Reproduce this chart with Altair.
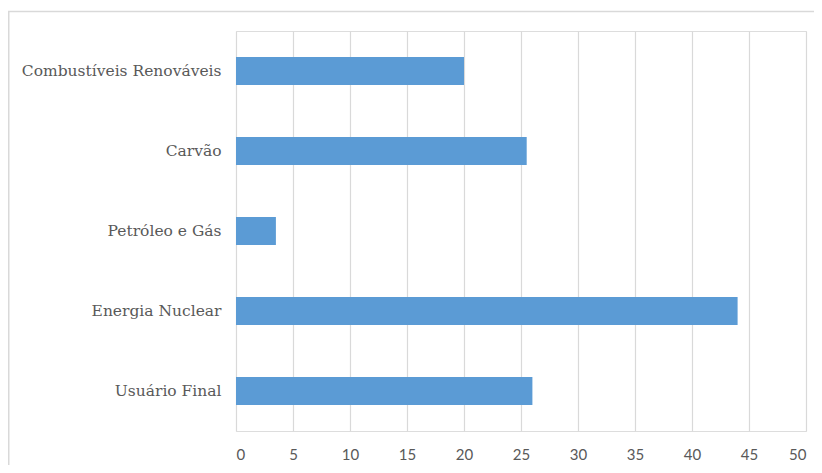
import altair as alt
import pandas as pd

categories = ["Combustíveis Renováveis", "Carvão", "Petróleo e Gás", "Energia Nuclear", "Usuário Final"]
values = [20, 25.5, 3.5, 44, 26]

df = pd.DataFrame({"categoria": categories, "valor": values})

PAD_L, PAD_T = 228, 23
W, H = 570, 400

frame = alt.Chart(pd.DataFrame({"a": [0]})).mark_rect(
    fill=None, stroke="#d9d9d9", strokeWidth=1.5
).encode(
    x=alt.value(-PAD_L + 0.75), x2=alt.value(W + 40),
    y=alt.value(-PAD_T + 3.5), y2=alt.value(H + 60),
)

bars = alt.Chart(df).mark_bar(color="#5B9BD5").encode(
    x=alt.X("valor:Q", scale=alt.Scale(domain=[0, 50], nice=False),
            axis=alt.Axis(values=list(range(0, 55, 5)), title=None, grid=True,
                          gridColor="#d9d9d9", gridWidth=1.2, domain=False, ticks=False,
                          labelFont="Lato", labelFontSize=15, labelColor="#595959",
                          labelPadding=16)),
    y=alt.Y("categoria:N", sort=categories,
            scale=alt.Scale(paddingInner=0.65, paddingOuter=0.325),
            axis=alt.Axis(title=None, domain=False, ticks=False, labelFontSize=15.5,
                          labelColor="#595959", labelPadding=15, labelLimit=300)),
)

chart = alt.layer(frame, bars).properties(
    width=W, height=H,
    padding={"left": PAD_L, "top": PAD_T, "right": 8, "bottom": 34},
    autosize=alt.AutoSizeParams(type="none"),
).configure_view(stroke=None).configure(background="white").configure_axisY(
    labelFont="DejaVu Serif"
)

chart.save("out.html", embed_options={"renderer": "svg", "actions": False})
